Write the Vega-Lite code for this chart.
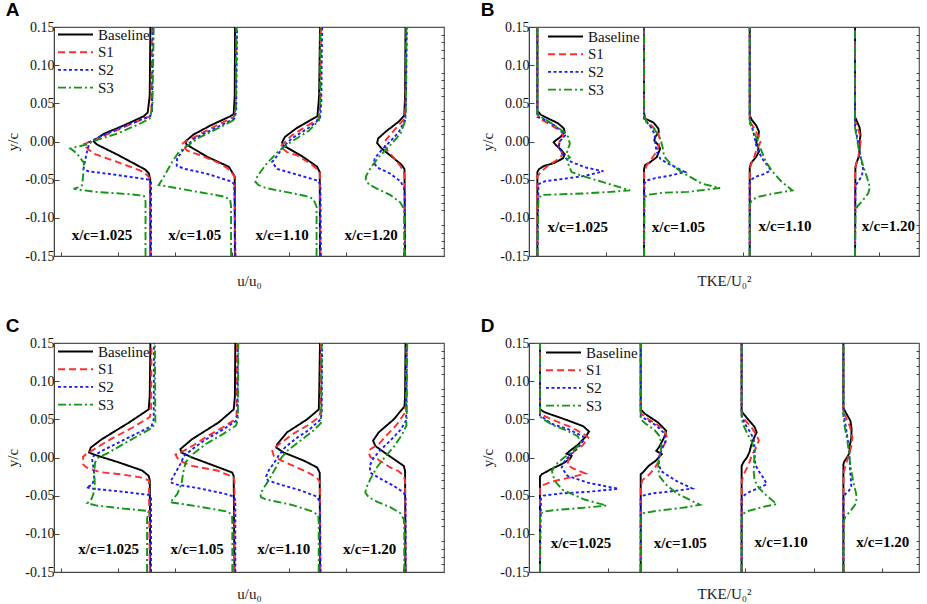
{
"$schema":"https://vega.github.io/schema/vega-lite/v6.json",
"padding":{"left":5,"top":0,"right":3,"bottom":2},
"config":{"font":"Liberation Serif","view":{"stroke":"#555","strokeWidth":1.2},
"axis":{"grid":false,"domainColor":"#444","tickColor":"#444","labelFont":"Liberation Serif","titleFont":"Liberation Serif","labelColor":"#111","titleColor":"#222","titleFontWeight":"normal","labelFontSize":14,"titleFontSize":15},
"legend":{"padding":0,"title":null,"symbolType":"stroke","symbolSize":1225,"symbolStrokeWidth":2,"clipHeight":15,"labelFont":"Liberation Serif","labelFontSize":15,"labelColor":"#111","rowPadding":1.7,"labelOffset":4},
"line":{"strokeWidth":1.9}},
"datasets":{
"A":[
{"g":1,"s":"Baseline","x":1.047,"y":0.15},{"g":1,"s":"Baseline","x":1.039,"y":0.06},{"g":1,"s":"Baseline","x":1.016,"y":0.038},{"g":1,"s":"Baseline","x":0.969,"y":0.033},{"g":1,"s":"Baseline","x":0.735,"y":0.021},{"g":1,"s":"Baseline","x":0.501,"y":0.01},{"g":1,"s":"Baseline","x":0.40,"y":0.002},{"g":1,"s":"Baseline","x":0.384,"y":0.0},{"g":1,"s":"Baseline","x":0.423,"y":-0.004},{"g":1,"s":"Baseline","x":0.657,"y":-0.017},{"g":1,"s":"Baseline","x":0.891,"y":-0.031},{"g":1,"s":"Baseline","x":0.99,"y":-0.037},{"g":1,"s":"Baseline","x":1.03,"y":-0.042},{"g":1,"s":"Baseline","x":1.045,"y":-0.05},{"g":1,"s":"Baseline","x":1.047,"y":-0.15},
{"g":1,"s":"S1","x":1.066,"y":0.15},{"g":1,"s":"S1","x":1.058,"y":0.04},{"g":1,"s":"S1","x":1.04,"y":0.033},{"g":1,"s":"S1","x":0.95,"y":0.029},{"g":1,"s":"S1","x":0.70,"y":0.017},{"g":1,"s":"S1","x":0.45,"y":0.005},{"g":1,"s":"S1","x":0.30,"y":-0.002},{"g":1,"s":"S1","x":0.259,"y":-0.004},{"g":1,"s":"S1","x":0.384,"y":-0.016},{"g":1,"s":"S1","x":0.54,"y":-0.022},{"g":1,"s":"S1","x":0.735,"y":-0.030},{"g":1,"s":"S1","x":0.93,"y":-0.038},{"g":1,"s":"S1","x":1.008,"y":-0.044},{"g":1,"s":"S1","x":1.039,"y":-0.048},{"g":1,"s":"S1","x":1.05,"y":-0.15},
{"g":1,"s":"S2","x":1.078,"y":0.15},{"g":1,"s":"S2","x":1.066,"y":0.040},{"g":1,"s":"S2","x":1.045,"y":0.033},{"g":1,"s":"S2","x":0.90,"y":0.027},{"g":1,"s":"S2","x":0.65,"y":0.016},{"g":1,"s":"S2","x":0.45,"y":0.006},{"g":1,"s":"S2","x":0.33,"y":-0.001},{"g":1,"s":"S2","x":0.32,"y":-0.008},{"g":1,"s":"S2","x":0.30,"y":-0.016},{"g":1,"s":"S2","x":0.275,"y":-0.030},{"g":1,"s":"S2","x":0.265,"y":-0.036},{"g":1,"s":"S2","x":0.32,"y":-0.039},{"g":1,"s":"S2","x":0.60,"y":-0.043},{"g":1,"s":"S2","x":0.85,"y":-0.047},{"g":1,"s":"S2","x":1.03,"y":-0.050},{"g":1,"s":"S2","x":1.055,"y":-0.054},{"g":1,"s":"S2","x":1.055,"y":-0.15},
{"g":1,"s":"S3","x":1.086,"y":0.15},{"g":1,"s":"S3","x":1.07,"y":0.045},{"g":1,"s":"S3","x":1.04,"y":0.030},{"g":1,"s":"S3","x":0.90,"y":0.022},{"g":1,"s":"S3","x":0.65,"y":0.010},{"g":1,"s":"S3","x":0.42,"y":0.002},{"g":1,"s":"S3","x":0.30,"y":-0.004},{"g":1,"s":"S3","x":0.111,"y":-0.009},{"g":1,"s":"S3","x":0.19,"y":-0.016},{"g":1,"s":"S3","x":0.27,"y":-0.028},{"g":1,"s":"S3","x":0.26,"y":-0.045},{"g":1,"s":"S3","x":0.25,"y":-0.057},{"g":1,"s":"S3","x":0.20,"y":-0.060},{"g":1,"s":"S3","x":0.15,"y":-0.062},{"g":1,"s":"S3","x":0.40,"y":-0.066},{"g":1,"s":"S3","x":0.80,"y":-0.069},{"g":1,"s":"S3","x":0.97,"y":-0.071},{"g":1,"s":"S3","x":0.99,"y":-0.078},{"g":1,"s":"S3","x":0.99,"y":-0.15},
{"g":2,"s":"Baseline","x":2.037,"y":0.15},{"g":2,"s":"Baseline","x":2.033,"y":0.06},{"g":2,"s":"Baseline","x":2.021,"y":0.036},{"g":2,"s":"Baseline","x":1.98,"y":0.033},{"g":2,"s":"Baseline","x":1.75,"y":0.021},{"g":2,"s":"Baseline","x":1.55,"y":0.009},{"g":2,"s":"Baseline","x":1.456,"y":0.0},{"g":2,"s":"Baseline","x":1.47,"y":-0.004},{"g":2,"s":"Baseline","x":1.71,"y":-0.020},{"g":2,"s":"Baseline","x":1.963,"y":-0.033},{"g":2,"s":"Baseline","x":2.002,"y":-0.040},{"g":2,"s":"Baseline","x":2.033,"y":-0.046},{"g":2,"s":"Baseline","x":2.035,"y":-0.15},
{"g":2,"s":"S1","x":2.053,"y":0.15},{"g":2,"s":"S1","x":2.045,"y":0.040},{"g":2,"s":"S1","x":2.02,"y":0.032},{"g":2,"s":"S1","x":1.80,"y":0.020},{"g":2,"s":"S1","x":1.60,"y":0.008},{"g":2,"s":"S1","x":1.43,"y":-0.002},{"g":2,"s":"S1","x":1.417,"y":-0.004},{"g":2,"s":"S1","x":1.476,"y":-0.012},{"g":2,"s":"S1","x":1.632,"y":-0.018},{"g":2,"s":"S1","x":1.866,"y":-0.029},{"g":2,"s":"S1","x":1.982,"y":-0.038},{"g":2,"s":"S1","x":2.03,"y":-0.046},{"g":2,"s":"S1","x":2.04,"y":-0.15},
{"g":2,"s":"S2","x":2.06,"y":0.15},{"g":2,"s":"S2","x":2.05,"y":0.040},{"g":2,"s":"S2","x":2.03,"y":0.030},{"g":2,"s":"S2","x":1.85,"y":0.020},{"g":2,"s":"S2","x":1.65,"y":0.009},{"g":2,"s":"S2","x":1.55,"y":0.003},{"g":2,"s":"S2","x":1.45,"y":-0.008},{"g":2,"s":"S2","x":1.36,"y":-0.022},{"g":2,"s":"S2","x":1.355,"y":-0.032},{"g":2,"s":"S2","x":1.456,"y":-0.036},{"g":2,"s":"S2","x":1.70,"y":-0.042},{"g":2,"s":"S2","x":1.982,"y":-0.052},{"g":2,"s":"S2","x":2.03,"y":-0.056},{"g":2,"s":"S2","x":2.04,"y":-0.15},
{"g":2,"s":"S3","x":2.055,"y":0.15},{"g":2,"s":"S3","x":2.045,"y":0.045},{"g":2,"s":"S3","x":2.02,"y":0.028},{"g":2,"s":"S3","x":1.85,"y":0.018},{"g":2,"s":"S3","x":1.60,"y":0.004},{"g":2,"s":"S3","x":1.50,"y":-0.004},{"g":2,"s":"S3","x":1.378,"y":-0.014},{"g":2,"s":"S3","x":1.30,"y":-0.027},{"g":2,"s":"S3","x":1.20,"y":-0.047},{"g":2,"s":"S3","x":1.144,"y":-0.057},{"g":2,"s":"S3","x":1.20,"y":-0.058},{"g":2,"s":"S3","x":1.55,"y":-0.065},{"g":2,"s":"S3","x":1.90,"y":-0.072},{"g":2,"s":"S3","x":1.98,"y":-0.076},{"g":2,"s":"S3","x":1.99,"y":-0.085},{"g":2,"s":"S3","x":1.99,"y":-0.15},
{"g":3,"s":"Baseline","x":3.03,"y":0.15},{"g":3,"s":"Baseline","x":3.02,"y":0.06},{"g":3,"s":"Baseline","x":3.00,"y":0.033},{"g":3,"s":"Baseline","x":2.95,"y":0.030},{"g":3,"s":"Baseline","x":2.75,"y":0.017},{"g":3,"s":"Baseline","x":2.62,"y":0.006},{"g":3,"s":"Baseline","x":2.587,"y":-0.001},{"g":3,"s":"Baseline","x":2.60,"y":-0.005},{"g":3,"s":"Baseline","x":2.83,"y":-0.020},{"g":3,"s":"Baseline","x":2.996,"y":-0.033},{"g":3,"s":"Baseline","x":3.027,"y":-0.040},{"g":3,"s":"Baseline","x":3.03,"y":-0.15},
{"g":3,"s":"S1","x":3.04,"y":0.15},{"g":3,"s":"S1","x":3.035,"y":0.05},{"g":3,"s":"S1","x":3.016,"y":0.030},{"g":3,"s":"S1","x":2.90,"y":0.022},{"g":3,"s":"S1","x":2.70,"y":0.008},{"g":3,"s":"S1","x":2.567,"y":-0.007},{"g":3,"s":"S1","x":2.645,"y":-0.014},{"g":3,"s":"S1","x":2.76,"y":-0.018},{"g":3,"s":"S1","x":2.918,"y":-0.029},{"g":3,"s":"S1","x":2.996,"y":-0.036},{"g":3,"s":"S1","x":3.03,"y":-0.042},{"g":3,"s":"S1","x":3.035,"y":-0.15},
{"g":3,"s":"S2","x":3.055,"y":0.15},{"g":3,"s":"S2","x":3.045,"y":0.05},{"g":3,"s":"S2","x":3.03,"y":0.030},{"g":3,"s":"S2","x":2.90,"y":0.018},{"g":3,"s":"S2","x":2.70,"y":0.004},{"g":3,"s":"S2","x":2.60,"y":-0.007},{"g":3,"s":"S2","x":2.52,"y":-0.020},{"g":3,"s":"S2","x":2.47,"y":-0.027},{"g":3,"s":"S2","x":2.53,"y":-0.036},{"g":3,"s":"S2","x":2.75,"y":-0.043},{"g":3,"s":"S2","x":2.996,"y":-0.051},{"g":3,"s":"S2","x":3.035,"y":-0.056},{"g":3,"s":"S2","x":3.04,"y":-0.15},
{"g":3,"s":"S3","x":3.035,"y":0.15},{"g":3,"s":"S3","x":3.03,"y":0.05},{"g":3,"s":"S3","x":3.02,"y":0.028},{"g":3,"s":"S3","x":2.90,"y":0.014},{"g":3,"s":"S3","x":2.70,"y":0.0},{"g":3,"s":"S3","x":2.55,"y":-0.012},{"g":3,"s":"S3","x":2.40,"y":-0.030},{"g":3,"s":"S3","x":2.30,"y":-0.045},{"g":3,"s":"S3","x":2.275,"y":-0.053},{"g":3,"s":"S3","x":2.31,"y":-0.057},{"g":3,"s":"S3","x":2.40,"y":-0.061},{"g":3,"s":"S3","x":2.85,"y":-0.071},{"g":3,"s":"S3","x":2.95,"y":-0.075},{"g":3,"s":"S3","x":2.99,"y":-0.085},{"g":3,"s":"S3","x":2.99,"y":-0.15},
{"g":4,"s":"Baseline","x":4.03,"y":0.15},{"g":4,"s":"Baseline","x":4.025,"y":0.06},{"g":4,"s":"Baseline","x":4.015,"y":0.034},{"g":4,"s":"Baseline","x":3.95,"y":0.026},{"g":4,"s":"Baseline","x":3.80,"y":0.013},{"g":4,"s":"Baseline","x":3.71,"y":0.004},{"g":4,"s":"Baseline","x":3.698,"y":-0.002},{"g":4,"s":"Baseline","x":3.75,"y":-0.009},{"g":4,"s":"Baseline","x":3.87,"y":-0.020},{"g":4,"s":"Baseline","x":3.98,"y":-0.030},{"g":4,"s":"Baseline","x":4.018,"y":-0.036},{"g":4,"s":"Baseline","x":4.025,"y":-0.15},
{"g":4,"s":"S1","x":4.04,"y":0.15},{"g":4,"s":"S1","x":4.03,"y":0.05},{"g":4,"s":"S1","x":4.02,"y":0.030},{"g":4,"s":"S1","x":3.93,"y":0.019},{"g":4,"s":"S1","x":3.87,"y":0.011},{"g":4,"s":"S1","x":3.80,"y":0.002},{"g":4,"s":"S1","x":3.79,"y":-0.005},{"g":4,"s":"S1","x":3.82,"y":-0.012},{"g":4,"s":"S1","x":3.90,"y":-0.022},{"g":4,"s":"S1","x":3.97,"y":-0.032},{"g":4,"s":"S1","x":4.01,"y":-0.040},{"g":4,"s":"S1","x":4.02,"y":-0.048},{"g":4,"s":"S1","x":4.025,"y":-0.15},
{"g":4,"s":"S2","x":4.045,"y":0.15},{"g":4,"s":"S2","x":4.035,"y":0.05},{"g":4,"s":"S2","x":4.025,"y":0.028},{"g":4,"s":"S2","x":3.95,"y":0.012},{"g":4,"s":"S2","x":3.85,"y":0.0},{"g":4,"s":"S2","x":3.76,"y":-0.010},{"g":4,"s":"S2","x":3.67,"y":-0.022},{"g":4,"s":"S2","x":3.66,"y":-0.028},{"g":4,"s":"S2","x":3.70,"y":-0.034},{"g":4,"s":"S2","x":3.85,"y":-0.042},{"g":4,"s":"S2","x":3.97,"y":-0.052},{"g":4,"s":"S2","x":4.01,"y":-0.060},{"g":4,"s":"S2","x":4.02,"y":-0.068},{"g":4,"s":"S2","x":4.02,"y":-0.15},
{"g":4,"s":"S3","x":4.04,"y":0.15},{"g":4,"s":"S3","x":4.035,"y":0.05},{"g":4,"s":"S3","x":4.03,"y":0.028},{"g":4,"s":"S3","x":3.97,"y":0.010},{"g":4,"s":"S3","x":3.85,"y":-0.005},{"g":4,"s":"S3","x":3.72,"y":-0.020},{"g":4,"s":"S3","x":3.62,"y":-0.035},{"g":4,"s":"S3","x":3.57,"y":-0.045},{"g":4,"s":"S3","x":3.565,"y":-0.050},{"g":4,"s":"S3","x":3.60,"y":-0.056},{"g":4,"s":"S3","x":3.70,"y":-0.062},{"g":4,"s":"S3","x":3.85,"y":-0.070},{"g":4,"s":"S3","x":3.97,"y":-0.080},{"g":4,"s":"S3","x":4.01,"y":-0.088},{"g":4,"s":"S3","x":4.015,"y":-0.095},{"g":4,"s":"S3","x":4.015,"y":-0.15}
],
"C":[
{"g":1,"s":"Baseline","x":1.047,"y":0.15},{"g":1,"s":"Baseline","x":1.039,"y":0.08},{"g":1,"s":"Baseline","x":1.027,"y":0.063},{"g":1,"s":"Baseline","x":0.80,"y":0.046},{"g":1,"s":"Baseline","x":0.48,"y":0.024},{"g":1,"s":"Baseline","x":0.35,"y":0.013},{"g":1,"s":"Baseline","x":0.33,"y":0.0065},{"g":1,"s":"Baseline","x":0.41,"y":0.003},{"g":1,"s":"Baseline","x":0.68,"y":-0.0065},{"g":1,"s":"Baseline","x":0.95,"y":-0.017},{"g":1,"s":"Baseline","x":1.027,"y":-0.024},{"g":1,"s":"Baseline","x":1.04,"y":-0.03},{"g":1,"s":"Baseline","x":1.045,"y":-0.15},
{"g":1,"s":"S1","x":1.06,"y":0.15},{"g":1,"s":"S1","x":1.055,"y":0.06},{"g":1,"s":"S1","x":1.04,"y":0.053},{"g":1,"s":"S1","x":0.85,"y":0.040},{"g":1,"s":"S1","x":0.60,"y":0.025},{"g":1,"s":"S1","x":0.42,"y":0.013},{"g":1,"s":"S1","x":0.29,"y":0.004},{"g":1,"s":"S1","x":0.26,"y":0.001},{"g":1,"s":"S1","x":0.26,"y":-0.009},{"g":1,"s":"S1","x":0.30,"y":-0.013},{"g":1,"s":"S1","x":0.45,"y":-0.019},{"g":1,"s":"S1","x":0.70,"y":-0.022},{"g":1,"s":"S1","x":0.93,"y":-0.026},{"g":1,"s":"S1","x":1.03,"y":-0.030},{"g":1,"s":"S1","x":1.04,"y":-0.15},
{"g":1,"s":"S2","x":1.09,"y":0.15},{"g":1,"s":"S2","x":1.086,"y":0.050},{"g":1,"s":"S2","x":1.06,"y":0.041},{"g":1,"s":"S2","x":0.754,"y":0.024},{"g":1,"s":"S2","x":0.481,"y":0.0087},{"g":1,"s":"S2","x":0.384,"y":0.002},{"g":1,"s":"S2","x":0.365,"y":-0.002},{"g":1,"s":"S2","x":0.384,"y":-0.015},{"g":1,"s":"S2","x":0.39,"y":-0.028},{"g":1,"s":"S2","x":0.365,"y":-0.036},{"g":1,"s":"S2","x":0.298,"y":-0.039},{"g":1,"s":"S2","x":0.384,"y":-0.041},{"g":1,"s":"S2","x":0.735,"y":-0.045},{"g":1,"s":"S2","x":1.027,"y":-0.049},{"g":1,"s":"S2","x":1.055,"y":-0.052},{"g":1,"s":"S2","x":1.055,"y":-0.15},
{"g":1,"s":"S3","x":1.10,"y":0.15},{"g":1,"s":"S3","x":1.105,"y":0.046},{"g":1,"s":"S3","x":1.07,"y":0.039},{"g":1,"s":"S3","x":0.832,"y":0.024},{"g":1,"s":"S3","x":0.56,"y":0.0065},{"g":1,"s":"S3","x":0.44,"y":0.0},{"g":1,"s":"S3","x":0.40,"y":-0.0065},{"g":1,"s":"S3","x":0.39,"y":-0.020},{"g":1,"s":"S3","x":0.40,"y":-0.041},{"g":1,"s":"S3","x":0.36,"y":-0.054},{"g":1,"s":"S3","x":0.31,"y":-0.060},{"g":1,"s":"S3","x":0.42,"y":-0.063},{"g":1,"s":"S3","x":0.735,"y":-0.067},{"g":1,"s":"S3","x":1.027,"y":-0.070},{"g":1,"s":"S3","x":1.02,"y":-0.074},{"g":1,"s":"S3","x":1.008,"y":-0.08},{"g":1,"s":"S3","x":1.008,"y":-0.15},
{"g":2,"s":"Baseline","x":2.04,"y":0.15},{"g":2,"s":"Baseline","x":2.035,"y":0.08},{"g":2,"s":"Baseline","x":2.021,"y":0.063},{"g":2,"s":"Baseline","x":1.846,"y":0.046},{"g":2,"s":"Baseline","x":1.534,"y":0.024},{"g":2,"s":"Baseline","x":1.398,"y":0.011},{"g":2,"s":"Baseline","x":1.41,"y":0.0065},{"g":2,"s":"Baseline","x":1.534,"y":0.0},{"g":2,"s":"Baseline","x":1.846,"y":-0.013},{"g":2,"s":"Baseline","x":2.002,"y":-0.0196},{"g":2,"s":"Baseline","x":2.021,"y":-0.024},{"g":2,"s":"Baseline","x":2.03,"y":-0.15},
{"g":2,"s":"S1","x":2.06,"y":0.15},{"g":2,"s":"S1","x":2.055,"y":0.055},{"g":2,"s":"S1","x":2.04,"y":0.050},{"g":2,"s":"S1","x":1.90,"y":0.040},{"g":2,"s":"S1","x":1.70,"y":0.027},{"g":2,"s":"S1","x":1.55,"y":0.016},{"g":2,"s":"S1","x":1.44,"y":0.009},{"g":2,"s":"S1","x":1.34,"y":0.004},{"g":2,"s":"S1","x":1.378,"y":-0.004},{"g":2,"s":"S1","x":1.534,"y":-0.011},{"g":2,"s":"S1","x":1.827,"y":-0.017},{"g":2,"s":"S1","x":2.021,"y":-0.026},{"g":2,"s":"S1","x":2.03,"y":-0.032},{"g":2,"s":"S1","x":2.03,"y":-0.15},
{"g":2,"s":"S2","x":2.07,"y":0.15},{"g":2,"s":"S2","x":2.065,"y":0.055},{"g":2,"s":"S2","x":2.05,"y":0.048},{"g":2,"s":"S2","x":1.90,"y":0.037},{"g":2,"s":"S2","x":1.70,"y":0.024},{"g":2,"s":"S2","x":1.55,"y":0.012},{"g":2,"s":"S2","x":1.44,"y":0.002},{"g":2,"s":"S2","x":1.40,"y":-0.008},{"g":2,"s":"S2","x":1.34,"y":-0.020},{"g":2,"s":"S2","x":1.30,"y":-0.028},{"g":2,"s":"S2","x":1.28,"y":-0.032},{"g":2,"s":"S2","x":1.33,"y":-0.035},{"g":2,"s":"S2","x":1.60,"y":-0.040},{"g":2,"s":"S2","x":1.90,"y":-0.047},{"g":2,"s":"S2","x":2.02,"y":-0.051},{"g":2,"s":"S2","x":2.04,"y":-0.056},{"g":2,"s":"S2","x":2.04,"y":-0.15},
{"g":2,"s":"S3","x":2.075,"y":0.15},{"g":2,"s":"S3","x":2.07,"y":0.05},{"g":2,"s":"S3","x":2.05,"y":0.042},{"g":2,"s":"S3","x":1.90,"y":0.031},{"g":2,"s":"S3","x":1.70,"y":0.018},{"g":2,"s":"S3","x":1.55,"y":0.005},{"g":2,"s":"S3","x":1.46,"y":-0.006},{"g":2,"s":"S3","x":1.43,"y":-0.020},{"g":2,"s":"S3","x":1.41,"y":-0.035},{"g":2,"s":"S3","x":1.36,"y":-0.048},{"g":2,"s":"S3","x":1.30,"y":-0.056},{"g":2,"s":"S3","x":1.275,"y":-0.057},{"g":2,"s":"S3","x":1.30,"y":-0.059},{"g":2,"s":"S3","x":1.60,"y":-0.064},{"g":2,"s":"S3","x":1.95,"y":-0.071},{"g":2,"s":"S3","x":2.00,"y":-0.075},{"g":2,"s":"S3","x":2.005,"y":-0.085},{"g":2,"s":"S3","x":2.005,"y":-0.15},
{"g":3,"s":"Baseline","x":3.03,"y":0.15},{"g":3,"s":"Baseline","x":3.02,"y":0.08},{"g":3,"s":"Baseline","x":3.016,"y":0.063},{"g":3,"s":"Baseline","x":2.88,"y":0.050},{"g":3,"s":"Baseline","x":2.645,"y":0.033},{"g":3,"s":"Baseline","x":2.528,"y":0.017},{"g":3,"s":"Baseline","x":2.52,"y":0.013},{"g":3,"s":"Baseline","x":2.606,"y":0.0065},{"g":3,"s":"Baseline","x":2.84,"y":-0.004},{"g":3,"s":"Baseline","x":2.996,"y":-0.013},{"g":3,"s":"Baseline","x":3.027,"y":-0.020},{"g":3,"s":"Baseline","x":3.03,"y":-0.15},
{"g":3,"s":"S1","x":3.04,"y":0.15},{"g":3,"s":"S1","x":3.035,"y":0.06},{"g":3,"s":"S1","x":3.02,"y":0.053},{"g":3,"s":"S1","x":2.90,"y":0.043},{"g":3,"s":"S1","x":2.70,"y":0.030},{"g":3,"s":"S1","x":2.56,"y":0.018},{"g":3,"s":"S1","x":2.50,"y":0.013},{"g":3,"s":"S1","x":2.47,"y":0.010},{"g":3,"s":"S1","x":2.49,"y":0.002},{"g":3,"s":"S1","x":2.56,"y":-0.003},{"g":3,"s":"S1","x":2.70,"y":-0.010},{"g":3,"s":"S1","x":2.88,"y":-0.019},{"g":3,"s":"S1","x":2.99,"y":-0.026},{"g":3,"s":"S1","x":3.03,"y":-0.032},{"g":3,"s":"S1","x":3.035,"y":-0.15},
{"g":3,"s":"S2","x":3.055,"y":0.15},{"g":3,"s":"S2","x":3.05,"y":0.06},{"g":3,"s":"S2","x":3.04,"y":0.050},{"g":3,"s":"S2","x":2.90,"y":0.036},{"g":3,"s":"S2","x":2.75,"y":0.025},{"g":3,"s":"S2","x":2.62,"y":0.013},{"g":3,"s":"S2","x":2.55,"y":0.003},{"g":3,"s":"S2","x":2.50,"y":-0.006},{"g":3,"s":"S2","x":2.43,"y":-0.017},{"g":3,"s":"S2","x":2.40,"y":-0.025},{"g":3,"s":"S2","x":2.42,"y":-0.030},{"g":3,"s":"S2","x":2.55,"y":-0.035},{"g":3,"s":"S2","x":2.80,"y":-0.043},{"g":3,"s":"S2","x":2.99,"y":-0.051},{"g":3,"s":"S2","x":3.03,"y":-0.058},{"g":3,"s":"S2","x":3.035,"y":-0.15},
{"g":3,"s":"S3","x":3.05,"y":0.15},{"g":3,"s":"S3","x":3.045,"y":0.06},{"g":3,"s":"S3","x":3.04,"y":0.045},{"g":3,"s":"S3","x":2.95,"y":0.035},{"g":3,"s":"S3","x":2.80,"y":0.022},{"g":3,"s":"S3","x":2.66,"y":0.010},{"g":3,"s":"S3","x":2.58,"y":0.0},{"g":3,"s":"S3","x":2.52,"y":-0.012},{"g":3,"s":"S3","x":2.43,"y":-0.030},{"g":3,"s":"S3","x":2.36,"y":-0.042},{"g":3,"s":"S3","x":2.335,"y":-0.048},{"g":3,"s":"S3","x":2.34,"y":-0.052},{"g":3,"s":"S3","x":2.40,"y":-0.055},{"g":3,"s":"S3","x":2.70,"y":-0.062},{"g":3,"s":"S3","x":2.95,"y":-0.071},{"g":3,"s":"S3","x":3.01,"y":-0.076},{"g":3,"s":"S3","x":3.015,"y":-0.085},{"g":3,"s":"S3","x":3.015,"y":-0.15},
{"g":4,"s":"Baseline","x":4.03,"y":0.15},{"g":4,"s":"Baseline","x":4.025,"y":0.08},{"g":4,"s":"Baseline","x":4.018,"y":0.067},{"g":4,"s":"Baseline","x":3.893,"y":0.050},{"g":4,"s":"Baseline","x":3.717,"y":0.033},{"g":4,"s":"Baseline","x":3.651,"y":0.022},{"g":4,"s":"Baseline","x":3.678,"y":0.015},{"g":4,"s":"Baseline","x":3.815,"y":0.004},{"g":4,"s":"Baseline","x":3.951,"y":-0.0065},{"g":4,"s":"Baseline","x":4.01,"y":-0.011},{"g":4,"s":"Baseline","x":4.025,"y":-0.018},{"g":4,"s":"Baseline","x":4.029,"y":-0.15},
{"g":4,"s":"S1","x":4.04,"y":0.15},{"g":4,"s":"S1","x":4.035,"y":0.07},{"g":4,"s":"S1","x":4.02,"y":0.058},{"g":4,"s":"S1","x":3.92,"y":0.042},{"g":4,"s":"S1","x":3.80,"y":0.028},{"g":4,"s":"S1","x":3.72,"y":0.018},{"g":4,"s":"S1","x":3.62,"y":0.011},{"g":4,"s":"S1","x":3.60,"y":0.007},{"g":4,"s":"S1","x":3.62,"y":0.0},{"g":4,"s":"S1","x":3.70,"y":-0.002},{"g":4,"s":"S1","x":3.85,"y":-0.013},{"g":4,"s":"S1","x":3.95,"y":-0.018},{"g":4,"s":"S1","x":4.01,"y":-0.024},{"g":4,"s":"S1","x":4.025,"y":-0.030},{"g":4,"s":"S1","x":4.03,"y":-0.15},
{"g":4,"s":"S2","x":4.045,"y":0.15},{"g":4,"s":"S2","x":4.04,"y":0.06},{"g":4,"s":"S2","x":4.035,"y":0.048},{"g":4,"s":"S2","x":3.97,"y":0.036},{"g":4,"s":"S2","x":3.85,"y":0.022},{"g":4,"s":"S2","x":3.72,"y":0.008},{"g":4,"s":"S2","x":3.65,"y":-0.002},{"g":4,"s":"S2","x":3.61,"y":-0.011},{"g":4,"s":"S2","x":3.62,"y":-0.020},{"g":4,"s":"S2","x":3.74,"y":-0.028},{"g":4,"s":"S2","x":3.89,"y":-0.037},{"g":4,"s":"S2","x":4.01,"y":-0.046},{"g":4,"s":"S2","x":4.03,"y":-0.052},{"g":4,"s":"S2","x":4.03,"y":-0.15},
{"g":4,"s":"S3","x":4.05,"y":0.15},{"g":4,"s":"S3","x":4.045,"y":0.06},{"g":4,"s":"S3","x":4.04,"y":0.042},{"g":4,"s":"S3","x":3.99,"y":0.030},{"g":4,"s":"S3","x":3.90,"y":0.015},{"g":4,"s":"S3","x":3.80,"y":0.002},{"g":4,"s":"S3","x":3.70,"y":-0.012},{"g":4,"s":"S3","x":3.62,"y":-0.028},{"g":4,"s":"S3","x":3.57,"y":-0.040},{"g":4,"s":"S3","x":3.56,"y":-0.046},{"g":4,"s":"S3","x":3.60,"y":-0.052},{"g":4,"s":"S3","x":3.70,"y":-0.058},{"g":4,"s":"S3","x":3.85,"y":-0.065},{"g":4,"s":"S3","x":3.97,"y":-0.073},{"g":4,"s":"S3","x":4.01,"y":-0.081},{"g":4,"s":"S3","x":4.015,"y":-0.09},{"g":4,"s":"S3","x":4.015,"y":-0.15}
],
"B":[
{"g":1,"s":"Baseline","x":0,"y":0.15},{"g":1,"s":"Baseline","x":0,"y":0.040},{"g":1,"s":"Baseline","x":0.002,"y":0.035},{"g":1,"s":"Baseline","x":0.0064,"y":0.030},{"g":1,"s":"Baseline","x":0.012,"y":0.024},{"g":1,"s":"Baseline","x":0.0155,"y":0.017},{"g":1,"s":"Baseline","x":0.016,"y":0.012},{"g":1,"s":"Baseline","x":0.0135,"y":0.006},{"g":1,"s":"Baseline","x":0.0105,"y":0.001},{"g":1,"s":"Baseline","x":0.0095,"y":-0.001},{"g":1,"s":"Baseline","x":0.011,"y":-0.005},{"g":1,"s":"Baseline","x":0.014,"y":-0.011},{"g":1,"s":"Baseline","x":0.016,"y":-0.017},{"g":1,"s":"Baseline","x":0.015,"y":-0.022},{"g":1,"s":"Baseline","x":0.010,"y":-0.028},{"g":1,"s":"Baseline","x":0.004,"y":-0.032},{"g":1,"s":"Baseline","x":0.001,"y":-0.036},{"g":1,"s":"Baseline","x":0,"y":-0.04},{"g":1,"s":"Baseline","x":0,"y":-0.15},
{"g":1,"s":"S1","x":0,"y":0.15},{"g":1,"s":"S1","x":0,"y":0.035},{"g":1,"s":"S1","x":0.003,"y":0.028},{"g":1,"s":"S1","x":0.009,"y":0.020},{"g":1,"s":"S1","x":0.0145,"y":0.012},{"g":1,"s":"S1","x":0.015,"y":0.006},{"g":1,"s":"S1","x":0.013,"y":0.0},{"g":1,"s":"S1","x":0.0125,"y":-0.006},{"g":1,"s":"S1","x":0.014,"y":-0.012},{"g":1,"s":"S1","x":0.0145,"y":-0.018},{"g":1,"s":"S1","x":0.011,"y":-0.025},{"g":1,"s":"S1","x":0.006,"y":-0.032},{"g":1,"s":"S1","x":0.002,"y":-0.040},{"g":1,"s":"S1","x":0,"y":-0.046},{"g":1,"s":"S1","x":0,"y":-0.15},
{"g":1,"s":"S2","x":0,"y":0.15},{"g":1,"s":"S2","x":0,"y":0.032},{"g":1,"s":"S2","x":0.003,"y":0.030},{"g":1,"s":"S2","x":0.010,"y":0.021},{"g":1,"s":"S2","x":0.015,"y":0.012},{"g":1,"s":"S2","x":0.0162,"y":0.008},{"g":1,"s":"S2","x":0.013,"y":0.0},{"g":1,"s":"S2","x":0.0125,"y":-0.008},{"g":1,"s":"S2","x":0.016,"y":-0.020},{"g":1,"s":"S2","x":0.018,"y":-0.025},{"g":1,"s":"S2","x":0.028,"y":-0.034},{"g":1,"s":"S2","x":0.0386,"y":-0.039},{"g":1,"s":"S2","x":0.028,"y":-0.045},{"g":1,"s":"S2","x":0.015,"y":-0.049},{"g":1,"s":"S2","x":0.0045,"y":-0.052},{"g":1,"s":"S2","x":0.0006,"y":-0.056},{"g":1,"s":"S2","x":0,"y":-0.15},
{"g":1,"s":"S3","x":0,"y":0.15},{"g":1,"s":"S3","x":0,"y":0.036},{"g":1,"s":"S3","x":0.001,"y":0.034},{"g":1,"s":"S3","x":0.0074,"y":0.025},{"g":1,"s":"S3","x":0.016,"y":0.012},{"g":1,"s":"S3","x":0.018,"y":0.006},{"g":1,"s":"S3","x":0.019,"y":-0.003},{"g":1,"s":"S3","x":0.017,"y":-0.016},{"g":1,"s":"S3","x":0.019,"y":-0.021},{"g":1,"s":"S3","x":0.0175,"y":-0.023},{"g":1,"s":"S3","x":0.018,"y":-0.029},{"g":1,"s":"S3","x":0.020,"y":-0.040},{"g":1,"s":"S3","x":0.026,"y":-0.045},{"g":1,"s":"S3","x":0.038,"y":-0.053},{"g":1,"s":"S3","x":0.0542,"y":-0.064},{"g":1,"s":"S3","x":0.043,"y":-0.066},{"g":1,"s":"S3","x":0.028,"y":-0.068},{"g":1,"s":"S3","x":0.010,"y":-0.0695},{"g":1,"s":"S3","x":0.0025,"y":-0.070},{"g":1,"s":"S3","x":0.0006,"y":-0.075},{"g":1,"s":"S3","x":0,"y":-0.15},
{"g":2,"s":"Baseline","x":0.0624,"y":0.15},{"g":2,"s":"Baseline","x":0.0624,"y":0.038},{"g":2,"s":"Baseline","x":0.063,"y":0.030},{"g":2,"s":"Baseline","x":0.0678,"y":0.025},{"g":2,"s":"Baseline","x":0.0708,"y":0.017},{"g":2,"s":"Baseline","x":0.071,"y":0.012},{"g":2,"s":"Baseline","x":0.0688,"y":0.0057},{"g":2,"s":"Baseline","x":0.0684,"y":0.0013},{"g":2,"s":"Baseline","x":0.0708,"y":-0.005},{"g":2,"s":"Baseline","x":0.0718,"y":-0.0096},{"g":2,"s":"Baseline","x":0.0698,"y":-0.0205},{"g":2,"s":"Baseline","x":0.066,"y":-0.027},{"g":2,"s":"Baseline","x":0.063,"y":-0.031},{"g":2,"s":"Baseline","x":0.0624,"y":-0.036},{"g":2,"s":"Baseline","x":0.0624,"y":-0.15},
{"g":2,"s":"S1","x":0.0624,"y":0.15},{"g":2,"s":"S1","x":0.0624,"y":0.032},{"g":2,"s":"S1","x":0.064,"y":0.027},{"g":2,"s":"S1","x":0.068,"y":0.018},{"g":2,"s":"S1","x":0.0708,"y":0.010},{"g":2,"s":"S1","x":0.0718,"y":0.002},{"g":2,"s":"S1","x":0.071,"y":-0.006},{"g":2,"s":"S1","x":0.0698,"y":-0.013},{"g":2,"s":"S1","x":0.067,"y":-0.022},{"g":2,"s":"S1","x":0.064,"y":-0.031},{"g":2,"s":"S1","x":0.0624,"y":-0.040},{"g":2,"s":"S1","x":0.0624,"y":-0.15},
{"g":2,"s":"S2","x":0.0624,"y":0.15},{"g":2,"s":"S2","x":0.0624,"y":0.030},{"g":2,"s":"S2","x":0.066,"y":0.020},{"g":2,"s":"S2","x":0.068,"y":0.012},{"g":2,"s":"S2","x":0.069,"y":0.004},{"g":2,"s":"S2","x":0.069,"y":-0.005},{"g":2,"s":"S2","x":0.070,"y":-0.014},{"g":2,"s":"S2","x":0.072,"y":-0.023},{"g":2,"s":"S2","x":0.0765,"y":-0.029},{"g":2,"s":"S2","x":0.0864,"y":-0.040},{"g":2,"s":"S2","x":0.077,"y":-0.045},{"g":2,"s":"S2","x":0.069,"y":-0.048},{"g":2,"s":"S2","x":0.064,"y":-0.051},{"g":2,"s":"S2","x":0.0626,"y":-0.055},{"g":2,"s":"S2","x":0.0624,"y":-0.15},
{"g":2,"s":"S3","x":0.0624,"y":0.15},{"g":2,"s":"S3","x":0.0624,"y":0.034},{"g":2,"s":"S3","x":0.064,"y":0.024},{"g":2,"s":"S3","x":0.068,"y":0.017},{"g":2,"s":"S3","x":0.071,"y":0.008},{"g":2,"s":"S3","x":0.0725,"y":-0.001},{"g":2,"s":"S3","x":0.0735,"y":-0.010},{"g":2,"s":"S3","x":0.074,"y":-0.019},{"g":2,"s":"S3","x":0.077,"y":-0.027},{"g":2,"s":"S3","x":0.083,"y":-0.038},{"g":2,"s":"S3","x":0.096,"y":-0.055},{"g":2,"s":"S3","x":0.1068,"y":-0.061},{"g":2,"s":"S3","x":0.088,"y":-0.066},{"g":2,"s":"S3","x":0.074,"y":-0.067},{"g":2,"s":"S3","x":0.064,"y":-0.070},{"g":2,"s":"S3","x":0.0626,"y":-0.075},{"g":2,"s":"S3","x":0.0624,"y":-0.15},
{"g":3,"s":"Baseline","x":0.1242,"y":0.15},{"g":3,"s":"Baseline","x":0.1242,"y":0.034},{"g":3,"s":"Baseline","x":0.1255,"y":0.028},{"g":3,"s":"Baseline","x":0.128,"y":0.021},{"g":3,"s":"Baseline","x":0.1296,"y":0.013},{"g":3,"s":"Baseline","x":0.1292,"y":0.006},{"g":3,"s":"Baseline","x":0.128,"y":-0.001},{"g":3,"s":"Baseline","x":0.1292,"y":-0.008},{"g":3,"s":"Baseline","x":0.1296,"y":-0.013},{"g":3,"s":"Baseline","x":0.128,"y":-0.020},{"g":3,"s":"Baseline","x":0.125,"y":-0.028},{"g":3,"s":"Baseline","x":0.1242,"y":-0.034},{"g":3,"s":"Baseline","x":0.1242,"y":-0.15},
{"g":3,"s":"S1","x":0.1242,"y":0.15},{"g":3,"s":"S1","x":0.1242,"y":0.026},{"g":3,"s":"S1","x":0.127,"y":0.017},{"g":3,"s":"S1","x":0.129,"y":0.008},{"g":3,"s":"S1","x":0.1308,"y":0.001},{"g":3,"s":"S1","x":0.1295,"y":-0.005},{"g":3,"s":"S1","x":0.128,"y":-0.012},{"g":3,"s":"S1","x":0.127,"y":-0.019},{"g":3,"s":"S1","x":0.1255,"y":-0.027},{"g":3,"s":"S1","x":0.1242,"y":-0.036},{"g":3,"s":"S1","x":0.1242,"y":-0.15},
{"g":3,"s":"S2","x":0.1242,"y":0.15},{"g":3,"s":"S2","x":0.1242,"y":0.025},{"g":3,"s":"S2","x":0.126,"y":0.016},{"g":3,"s":"S2","x":0.127,"y":0.006},{"g":3,"s":"S2","x":0.128,"y":-0.005},{"g":3,"s":"S2","x":0.1295,"y":-0.014},{"g":3,"s":"S2","x":0.132,"y":-0.024},{"g":3,"s":"S2","x":0.1355,"y":-0.034},{"g":3,"s":"S2","x":0.1365,"y":-0.038},{"g":3,"s":"S2","x":0.132,"y":-0.043},{"g":3,"s":"S2","x":0.128,"y":-0.046},{"g":3,"s":"S2","x":0.125,"y":-0.050},{"g":3,"s":"S2","x":0.1242,"y":-0.054},{"g":3,"s":"S2","x":0.1242,"y":-0.15},
{"g":3,"s":"S3","x":0.1242,"y":0.15},{"g":3,"s":"S3","x":0.1242,"y":0.028},{"g":3,"s":"S3","x":0.1255,"y":0.017},{"g":3,"s":"S3","x":0.128,"y":0.006},{"g":3,"s":"S3","x":0.1295,"y":-0.002},{"g":3,"s":"S3","x":0.131,"y":-0.012},{"g":3,"s":"S3","x":0.1335,"y":-0.026},{"g":3,"s":"S3","x":0.137,"y":-0.038},{"g":3,"s":"S3","x":0.1425,"y":-0.052},{"g":3,"s":"S3","x":0.1491,"y":-0.064},{"g":3,"s":"S3","x":0.139,"y":-0.068},{"g":3,"s":"S3","x":0.130,"y":-0.072},{"g":3,"s":"S3","x":0.1255,"y":-0.076},{"g":3,"s":"S3","x":0.1243,"y":-0.082},{"g":3,"s":"S3","x":0.1242,"y":-0.15},
{"g":4,"s":"Baseline","x":0.1858,"y":0.15},{"g":4,"s":"Baseline","x":0.1858,"y":0.032},{"g":4,"s":"Baseline","x":0.187,"y":0.026},{"g":4,"s":"Baseline","x":0.1885,"y":0.018},{"g":4,"s":"Baseline","x":0.189,"y":0.008},{"g":4,"s":"Baseline","x":0.1884,"y":0.0},{"g":4,"s":"Baseline","x":0.1885,"y":-0.009},{"g":4,"s":"Baseline","x":0.188,"y":-0.020},{"g":4,"s":"Baseline","x":0.1866,"y":-0.028},{"g":4,"s":"Baseline","x":0.186,"y":-0.034},{"g":4,"s":"Baseline","x":0.1858,"y":-0.15},
{"g":4,"s":"S1","x":0.1858,"y":0.15},{"g":4,"s":"S1","x":0.1858,"y":0.027},{"g":4,"s":"S1","x":0.187,"y":0.020},{"g":4,"s":"S1","x":0.1885,"y":0.010},{"g":4,"s":"S1","x":0.189,"y":0.0},{"g":4,"s":"S1","x":0.1886,"y":-0.010},{"g":4,"s":"S1","x":0.1875,"y":-0.022},{"g":4,"s":"S1","x":0.1862,"y":-0.032},{"g":4,"s":"S1","x":0.1858,"y":-0.040},{"g":4,"s":"S1","x":0.1858,"y":-0.15},
{"g":4,"s":"S2","x":0.1858,"y":0.15},{"g":4,"s":"S2","x":0.1858,"y":0.020},{"g":4,"s":"S2","x":0.1868,"y":0.008},{"g":4,"s":"S2","x":0.1878,"y":-0.005},{"g":4,"s":"S2","x":0.1892,"y":-0.022},{"g":4,"s":"S2","x":0.1905,"y":-0.035},{"g":4,"s":"S2","x":0.1898,"y":-0.045},{"g":4,"s":"S2","x":0.1875,"y":-0.053},{"g":4,"s":"S2","x":0.186,"y":-0.058},{"g":4,"s":"S2","x":0.1858,"y":-0.15},
{"g":4,"s":"S3","x":0.1858,"y":0.15},{"g":4,"s":"S3","x":0.1858,"y":0.018},{"g":4,"s":"S3","x":0.1868,"y":0.004},{"g":4,"s":"S3","x":0.188,"y":-0.010},{"g":4,"s":"S3","x":0.19,"y":-0.028},{"g":4,"s":"S3","x":0.1925,"y":-0.045},{"g":4,"s":"S3","x":0.1945,"y":-0.060},{"g":4,"s":"S3","x":0.1935,"y":-0.068},{"g":4,"s":"S3","x":0.190,"y":-0.078},{"g":4,"s":"S3","x":0.1872,"y":-0.085},{"g":4,"s":"S3","x":0.186,"y":-0.090},{"g":4,"s":"S3","x":0.1858,"y":-0.15}
],
"D":[
{"g":1,"s":"Baseline","x":0,"y":0.15},{"g":1,"s":"Baseline","x":0,"y":0.063},{"g":1,"s":"Baseline","x":0.003,"y":0.059},{"g":1,"s":"Baseline","x":0.0146,"y":0.050},{"g":1,"s":"Baseline","x":0.0253,"y":0.041},{"g":1,"s":"Baseline","x":0.0287,"y":0.034},{"g":1,"s":"Baseline","x":0.027,"y":0.028},{"g":1,"s":"Baseline","x":0.0224,"y":0.017},{"g":1,"s":"Baseline","x":0.0175,"y":0.0087},{"g":1,"s":"Baseline","x":0.0156,"y":0.005},{"g":1,"s":"Baseline","x":0.0185,"y":0.002},{"g":1,"s":"Baseline","x":0.0175,"y":-0.002},{"g":1,"s":"Baseline","x":0.0127,"y":-0.0087},{"g":1,"s":"Baseline","x":0.0068,"y":-0.015},{"g":1,"s":"Baseline","x":0.001,"y":-0.022},{"g":1,"s":"Baseline","x":0,"y":-0.025},{"g":1,"s":"Baseline","x":0,"y":-0.15},
{"g":1,"s":"S1","x":0,"y":0.15},{"g":1,"s":"S1","x":0,"y":0.058},{"g":1,"s":"S1","x":0.002,"y":0.055},{"g":1,"s":"S1","x":0.009,"y":0.048},{"g":1,"s":"S1","x":0.018,"y":0.040},{"g":1,"s":"S1","x":0.026,"y":0.030},{"g":1,"s":"S1","x":0.0283,"y":0.026},{"g":1,"s":"S1","x":0.025,"y":0.016},{"g":1,"s":"S1","x":0.020,"y":0.008},{"g":1,"s":"S1","x":0.017,"y":0.0},{"g":1,"s":"S1","x":0.016,"y":-0.009},{"g":1,"s":"S1","x":0.019,"y":-0.014},{"g":1,"s":"S1","x":0.0267,"y":-0.021},{"g":1,"s":"S1","x":0.018,"y":-0.026},{"g":1,"s":"S1","x":0.008,"y":-0.031},{"g":1,"s":"S1","x":0.002,"y":-0.036},{"g":1,"s":"S1","x":0,"y":-0.040},{"g":1,"s":"S1","x":0,"y":-0.15},
{"g":1,"s":"S2","x":0,"y":0.15},{"g":1,"s":"S2","x":0,"y":0.055},{"g":1,"s":"S2","x":0.002,"y":0.052},{"g":1,"s":"S2","x":0.007,"y":0.044},{"g":1,"s":"S2","x":0.0165,"y":0.037},{"g":1,"s":"S2","x":0.025,"y":0.028},{"g":1,"s":"S2","x":0.026,"y":0.024},{"g":1,"s":"S2","x":0.023,"y":0.015},{"g":1,"s":"S2","x":0.018,"y":0.004},{"g":1,"s":"S2","x":0.0146,"y":-0.0044},{"g":1,"s":"S2","x":0.0127,"y":-0.013},{"g":1,"s":"S2","x":0.016,"y":-0.024},{"g":1,"s":"S2","x":0.028,"y":-0.033},{"g":1,"s":"S2","x":0.0458,"y":-0.041},{"g":1,"s":"S2","x":0.028,"y":-0.045},{"g":1,"s":"S2","x":0.0127,"y":-0.047},{"g":1,"s":"S2","x":0.002,"y":-0.050},{"g":1,"s":"S2","x":0.0006,"y":-0.053},{"g":1,"s":"S2","x":0,"y":-0.15},
{"g":1,"s":"S3","x":0,"y":0.15},{"g":1,"s":"S3","x":0,"y":0.054},{"g":1,"s":"S3","x":0.002,"y":0.050},{"g":1,"s":"S3","x":0.008,"y":0.042},{"g":1,"s":"S3","x":0.016,"y":0.035},{"g":1,"s":"S3","x":0.022,"y":0.028},{"g":1,"s":"S3","x":0.024,"y":0.020},{"g":1,"s":"S3","x":0.021,"y":0.012},{"g":1,"s":"S3","x":0.017,"y":0.005},{"g":1,"s":"S3","x":0.013,"y":-0.002},{"g":1,"s":"S3","x":0.009,"y":-0.010},{"g":1,"s":"S3","x":0.007,"y":-0.018},{"g":1,"s":"S3","x":0.0085,"y":-0.030},{"g":1,"s":"S3","x":0.013,"y":-0.042},{"g":1,"s":"S3","x":0.026,"y":-0.055},{"g":1,"s":"S3","x":0.039,"y":-0.063},{"g":1,"s":"S3","x":0.025,"y":-0.066},{"g":1,"s":"S3","x":0.008,"y":-0.069},{"g":1,"s":"S3","x":0.002,"y":-0.071},{"g":1,"s":"S3","x":0,"y":-0.075},{"g":1,"s":"S3","x":0,"y":-0.15},
{"g":2,"s":"Baseline","x":0.0589,"y":0.15},{"g":2,"s":"Baseline","x":0.0589,"y":0.063},{"g":2,"s":"Baseline","x":0.0615,"y":0.057},{"g":2,"s":"Baseline","x":0.069,"y":0.046},{"g":2,"s":"Baseline","x":0.0738,"y":0.035},{"g":2,"s":"Baseline","x":0.073,"y":0.028},{"g":2,"s":"Baseline","x":0.0695,"y":0.013},{"g":2,"s":"Baseline","x":0.068,"y":0.0087},{"g":2,"s":"Baseline","x":0.0712,"y":0.0044},{"g":2,"s":"Baseline","x":0.0676,"y":-0.0044},{"g":2,"s":"Baseline","x":0.0635,"y":-0.011},{"g":2,"s":"Baseline","x":0.060,"y":-0.020},{"g":2,"s":"Baseline","x":0.0589,"y":-0.022},{"g":2,"s":"Baseline","x":0.0589,"y":-0.15},
{"g":2,"s":"S1","x":0.0589,"y":0.15},{"g":2,"s":"S1","x":0.0589,"y":0.058},{"g":2,"s":"S1","x":0.062,"y":0.052},{"g":2,"s":"S1","x":0.068,"y":0.044},{"g":2,"s":"S1","x":0.0728,"y":0.036},{"g":2,"s":"S1","x":0.0745,"y":0.025},{"g":2,"s":"S1","x":0.072,"y":0.014},{"g":2,"s":"S1","x":0.070,"y":0.004},{"g":2,"s":"S1","x":0.0692,"y":-0.006},{"g":2,"s":"S1","x":0.067,"y":-0.014},{"g":2,"s":"S1","x":0.064,"y":-0.022},{"g":2,"s":"S1","x":0.0598,"y":-0.030},{"g":2,"s":"S1","x":0.0589,"y":-0.038},{"g":2,"s":"S1","x":0.0589,"y":-0.15},
{"g":2,"s":"S2","x":0.0589,"y":0.15},{"g":2,"s":"S2","x":0.0589,"y":0.054},{"g":2,"s":"S2","x":0.062,"y":0.050},{"g":2,"s":"S2","x":0.068,"y":0.042},{"g":2,"s":"S2","x":0.0725,"y":0.032},{"g":2,"s":"S2","x":0.0735,"y":0.022},{"g":2,"s":"S2","x":0.071,"y":0.010},{"g":2,"s":"S2","x":0.0695,"y":0.0},{"g":2,"s":"S2","x":0.0695,"y":-0.010},{"g":2,"s":"S2","x":0.071,"y":-0.018},{"g":2,"s":"S2","x":0.075,"y":-0.024},{"g":2,"s":"S2","x":0.080,"y":-0.031},{"g":2,"s":"S2","x":0.0891,"y":-0.0406},{"g":2,"s":"S2","x":0.078,"y":-0.044},{"g":2,"s":"S2","x":0.066,"y":-0.047},{"g":2,"s":"S2","x":0.060,"y":-0.050},{"g":2,"s":"S2","x":0.0589,"y":-0.054},{"g":2,"s":"S2","x":0.0589,"y":-0.15},
{"g":2,"s":"S3","x":0.0589,"y":0.15},{"g":2,"s":"S3","x":0.0589,"y":0.05},{"g":2,"s":"S3","x":0.062,"y":0.044},{"g":2,"s":"S3","x":0.067,"y":0.036},{"g":2,"s":"S3","x":0.070,"y":0.028},{"g":2,"s":"S3","x":0.071,"y":0.016},{"g":2,"s":"S3","x":0.0705,"y":0.005},{"g":2,"s":"S3","x":0.0695,"y":-0.004},{"g":2,"s":"S3","x":0.069,"y":-0.013},{"g":2,"s":"S3","x":0.070,"y":-0.025},{"g":2,"s":"S3","x":0.0735,"y":-0.035},{"g":2,"s":"S3","x":0.080,"y":-0.047},{"g":2,"s":"S3","x":0.088,"y":-0.056},{"g":2,"s":"S3","x":0.0936,"y":-0.062},{"g":2,"s":"S3","x":0.083,"y":-0.066},{"g":2,"s":"S3","x":0.068,"y":-0.070},{"g":2,"s":"S3","x":0.0605,"y":-0.073},{"g":2,"s":"S3","x":0.0592,"y":-0.077},{"g":2,"s":"S3","x":0.0589,"y":-0.15},
{"g":3,"s":"Baseline","x":0.1179,"y":0.15},{"g":3,"s":"Baseline","x":0.1179,"y":0.061},{"g":3,"s":"Baseline","x":0.119,"y":0.057},{"g":3,"s":"Baseline","x":0.1225,"y":0.048},{"g":3,"s":"Baseline","x":0.1255,"y":0.040},{"g":3,"s":"Baseline","x":0.1267,"y":0.033},{"g":3,"s":"Baseline","x":0.125,"y":0.025},{"g":3,"s":"Baseline","x":0.1235,"y":0.016},{"g":3,"s":"Baseline","x":0.1225,"y":0.007},{"g":3,"s":"Baseline","x":0.121,"y":0.0},{"g":3,"s":"Baseline","x":0.119,"y":-0.006},{"g":3,"s":"Baseline","x":0.1179,"y":-0.011},{"g":3,"s":"Baseline","x":0.1179,"y":-0.15},
{"g":3,"s":"S1","x":0.1179,"y":0.15},{"g":3,"s":"S1","x":0.1179,"y":0.058},{"g":3,"s":"S1","x":0.1195,"y":0.050},{"g":3,"s":"S1","x":0.1235,"y":0.040},{"g":3,"s":"S1","x":0.1265,"y":0.030},{"g":3,"s":"S1","x":0.128,"y":0.022},{"g":3,"s":"S1","x":0.1262,"y":0.012},{"g":3,"s":"S1","x":0.124,"y":0.004},{"g":3,"s":"S1","x":0.1225,"y":-0.006},{"g":3,"s":"S1","x":0.1205,"y":-0.016},{"g":3,"s":"S1","x":0.1188,"y":-0.024},{"g":3,"s":"S1","x":0.1179,"y":-0.032},{"g":3,"s":"S1","x":0.1179,"y":-0.15},
{"g":3,"s":"S2","x":0.1179,"y":0.15},{"g":3,"s":"S2","x":0.1179,"y":0.055},{"g":3,"s":"S2","x":0.1195,"y":0.045},{"g":3,"s":"S2","x":0.123,"y":0.033},{"g":3,"s":"S2","x":0.125,"y":0.024},{"g":3,"s":"S2","x":0.1255,"y":0.012},{"g":3,"s":"S2","x":0.1255,"y":0.0},{"g":3,"s":"S2","x":0.126,"y":-0.010},{"g":3,"s":"S2","x":0.128,"y":-0.018},{"g":3,"s":"S2","x":0.131,"y":-0.028},{"g":3,"s":"S2","x":0.1326,"y":-0.035},{"g":3,"s":"S2","x":0.128,"y":-0.040},{"g":3,"s":"S2","x":0.1225,"y":-0.045},{"g":3,"s":"S2","x":0.119,"y":-0.050},{"g":3,"s":"S2","x":0.1179,"y":-0.054},{"g":3,"s":"S2","x":0.1179,"y":-0.15},
{"g":3,"s":"S3","x":0.1179,"y":0.15},{"g":3,"s":"S3","x":0.1179,"y":0.05},{"g":3,"s":"S3","x":0.119,"y":0.042},{"g":3,"s":"S3","x":0.1215,"y":0.030},{"g":3,"s":"S3","x":0.124,"y":0.020},{"g":3,"s":"S3","x":0.1255,"y":0.008},{"g":3,"s":"S3","x":0.1252,"y":-0.005},{"g":3,"s":"S3","x":0.125,"y":-0.020},{"g":3,"s":"S3","x":0.1255,"y":-0.030},{"g":3,"s":"S3","x":0.128,"y":-0.040},{"g":3,"s":"S3","x":0.1325,"y":-0.050},{"g":3,"s":"S3","x":0.1384,"y":-0.061},{"g":3,"s":"S3","x":0.130,"y":-0.065},{"g":3,"s":"S3","x":0.122,"y":-0.070},{"g":3,"s":"S3","x":0.1185,"y":-0.074},{"g":3,"s":"S3","x":0.1179,"y":-0.080},{"g":3,"s":"S3","x":0.1179,"y":-0.15},
{"g":4,"s":"Baseline","x":0.1774,"y":0.15},{"g":4,"s":"Baseline","x":0.1774,"y":0.065},{"g":4,"s":"Baseline","x":0.179,"y":0.058},{"g":4,"s":"Baseline","x":0.1815,"y":0.048},{"g":4,"s":"Baseline","x":0.1822,"y":0.038},{"g":4,"s":"Baseline","x":0.182,"y":0.025},{"g":4,"s":"Baseline","x":0.181,"y":0.014},{"g":4,"s":"Baseline","x":0.181,"y":0.006},{"g":4,"s":"Baseline","x":0.1795,"y":0.0},{"g":4,"s":"Baseline","x":0.178,"y":-0.005},{"g":4,"s":"Baseline","x":0.1774,"y":-0.009},{"g":4,"s":"Baseline","x":0.1774,"y":-0.15},
{"g":4,"s":"S1","x":0.1774,"y":0.15},{"g":4,"s":"S1","x":0.1774,"y":0.060},{"g":4,"s":"S1","x":0.179,"y":0.052},{"g":4,"s":"S1","x":0.1813,"y":0.040},{"g":4,"s":"S1","x":0.1826,"y":0.026},{"g":4,"s":"S1","x":0.182,"y":0.014},{"g":4,"s":"S1","x":0.1805,"y":0.004},{"g":4,"s":"S1","x":0.1795,"y":-0.005},{"g":4,"s":"S1","x":0.1785,"y":-0.012},{"g":4,"s":"S1","x":0.1775,"y":-0.020},{"g":4,"s":"S1","x":0.1774,"y":-0.15},
{"g":4,"s":"S2","x":0.1774,"y":0.15},{"g":4,"s":"S2","x":0.1774,"y":0.057},{"g":4,"s":"S2","x":0.1785,"y":0.045},{"g":4,"s":"S2","x":0.1795,"y":0.030},{"g":4,"s":"S2","x":0.1805,"y":0.015},{"g":4,"s":"S2","x":0.181,"y":0.0},{"g":4,"s":"S2","x":0.1813,"y":-0.015},{"g":4,"s":"S2","x":0.1818,"y":-0.030},{"g":4,"s":"S2","x":0.182,"y":-0.038},{"g":4,"s":"S2","x":0.1805,"y":-0.044},{"g":4,"s":"S2","x":0.1785,"y":-0.048},{"g":4,"s":"S2","x":0.1774,"y":-0.052},{"g":4,"s":"S2","x":0.1774,"y":-0.15},
{"g":4,"s":"S3","x":0.1774,"y":0.15},{"g":4,"s":"S3","x":0.1774,"y":0.052},{"g":4,"s":"S3","x":0.1782,"y":0.040},{"g":4,"s":"S3","x":0.1795,"y":0.025},{"g":4,"s":"S3","x":0.1805,"y":0.010},{"g":4,"s":"S3","x":0.1812,"y":-0.005},{"g":4,"s":"S3","x":0.1822,"y":-0.020},{"g":4,"s":"S3","x":0.1835,"y":-0.035},{"g":4,"s":"S3","x":0.1848,"y":-0.047},{"g":4,"s":"S3","x":0.1852,"y":-0.053},{"g":4,"s":"S3","x":0.1842,"y":-0.062},{"g":4,"s":"S3","x":0.1815,"y":-0.070},{"g":4,"s":"S3","x":0.1785,"y":-0.078},{"g":4,"s":"S3","x":0.1776,"y":-0.083},{"g":4,"s":"S3","x":0.1774,"y":-0.15}
],
"lab":[
{"p":"A","t":"x/c=1.025","x":0.481,"y":-0.1226},{"p":"A","t":"x/c=1.05","x":1.565,"y":-0.1226},{"p":"A","t":"x/c=1.10","x":2.587,"y":-0.1226},{"p":"A","t":"x/c=1.20","x":3.628,"y":-0.1226},
{"p":"B","t":"x/c=1.025","x":0.0236,"y":-0.112},{"p":"B","t":"x/c=1.05","x":0.0825,"y":-0.112},{"p":"B","t":"x/c=1.10","x":0.1448,"y":-0.111},{"p":"B","t":"x/c=1.20","x":0.2053,"y":-0.111},
{"p":"C","t":"x/c=1.025","x":0.559,"y":-0.1204},{"p":"C","t":"x/c=1.05","x":1.593,"y":-0.1204},{"p":"C","t":"x/c=1.10","x":2.606,"y":-0.1204},{"p":"C","t":"x/c=1.20","x":3.611,"y":-0.1204},
{"p":"D","t":"x/c=1.025","x":0.024,"y":-0.1125},{"p":"D","t":"x/c=1.05","x":0.082,"y":-0.1125},{"p":"D","t":"x/c=1.10","x":0.141,"y":-0.111},{"p":"D","t":"x/c=1.20","x":0.2004,"y":-0.111}
]
},
"columns":2,
"spacing":{"column":34,"row":26},
"resolve":{"scale":{"color":"independent","strokeDash":"independent"},"legend":{"color":"independent","strokeDash":"independent"}},
"concat":[
{"width":390,"height":229,
"title":{"text":"A","anchor":"start","frame":"bounds","font":"Liberation Sans","fontSize":19,"fontWeight":"bold","color":"#000","offset":0},
"resolve":{"axis":{"y":"independent"}},
"layer":[
{"data":{"name":"A"},"mark":{"type":"line"},
"encoding":{
"x":{"field":"x","type":"quantitative","scale":{"domain":[-0.08,4.48],"nice":false,"zero":false},"axis":{"title":"u/u₀","labels":false,"tickSize":-4,"values":[0,0.1667,0.3333,0.5,0.6667,0.8333,1,1.1667,1.3333,1.5,1.6667,1.8333,2,2.1667,2.3333,2.5,2.6667,2.8333,3,3.1667,3.3333,3.5,3.6667,3.8333,4,4.1667,4.3333],"titlePadding":17}},
"y":{"field":"y","type":"quantitative","scale":{"domain":[-0.15,0.15],"nice":false},"axis":{"title":"y/c","tickSize":-5,"labelPadding":5,"values":[-0.15,-0.1,-0.05,0,0.05,0.1,0.15],"labelExpr":"replace(format(datum.value, '.2f'), '\u2212', '-')","titlePadding":4}},
"color":{"field":"s","type":"nominal","scale":{"domain":["Baseline","S1","S2","S3"],"range":["#000000","#ff2d2d","#1c1cff","#139613"]},"legend":{"orient":"none","legendX":3,"legendY":0}},
"strokeDash":{"field":"s","type":"nominal","scale":{"domain":["Baseline","S1","S2","S3"],"range":[[1,0],[7,4],[3,2.5],[8,3,2,3]]},"legend":{"orient":"none","legendX":3,"legendY":0}},
"detail":{"field":"g"},
"order":{"field":"y","type":"quantitative"}}},
{"data":{"name":"lab"},"transform":[{"filter":"datum.p=='A'"}],"mark":{"type":"text","font":"Liberation Serif","fontWeight":"bold","fontSize":15,"align":"center","baseline":"middle","color":"#000"},
"encoding":{"x":{"field":"x","type":"quantitative"},"y":{"field":"y","type":"quantitative","axis":{"title":null,"labels":false,"domain":false,"tickSize":-3,"values":[-0.14,-0.13,-0.12,-0.11,-0.09,-0.08,-0.07,-0.06,-0.04,-0.03,-0.02,-0.01,0.01,0.02,0.03,0.04,0.06,0.07,0.08,0.09,0.11,0.12,0.13,0.14]}},"text":{"field":"t"}}}
]},
{"width":390,"height":229,
"title":{"text":"B","anchor":"start","frame":"bounds","font":"Liberation Sans","fontSize":19,"fontWeight":"bold","color":"#000","offset":0},
"resolve":{"axis":{"y":"independent"}},
"layer":[
{"data":{"name":"B"},"mark":{"type":"line"},
"encoding":{
"x":{"field":"x","type":"quantitative","scale":{"domain":[-0.0049,0.2232],"nice":false,"zero":false},"axis":{"title":"TKE/U₀²","labels":false,"tickSize":-4,"values":[0,0.01,0.02,0.03,0.04,0.05,0.06,0.07,0.08,0.09,0.1,0.11,0.12,0.13,0.14,0.15,0.16,0.17,0.18,0.19,0.2,0.21,0.22],"titlePadding":17}},
"y":{"field":"y","type":"quantitative","scale":{"domain":[-0.15,0.15],"nice":false},"axis":{"title":"y/c","tickSize":-5,"labelPadding":5,"values":[-0.15,-0.1,-0.05,0,0.05,0.1,0.15],"labelExpr":"replace(format(datum.value, '.2f'), '\u2212', '-')","titlePadding":4}},
"color":{"field":"s","type":"nominal","scale":{"domain":["Baseline","S1","S2","S3"],"range":["#000000","#ff2d2d","#1c1cff","#139613"]},"legend":{"orient":"none","legendX":18,"legendY":2}},
"strokeDash":{"field":"s","type":"nominal","scale":{"domain":["Baseline","S1","S2","S3"],"range":[[1,0],[7,4],[3,2.5],[8,3,2,3]]},"legend":{"orient":"none","legendX":18,"legendY":2}},
"detail":{"field":"g"},
"order":{"field":"y","type":"quantitative"}}},
{"data":{"name":"lab"},"transform":[{"filter":"datum.p=='B'"}],"mark":{"type":"text","font":"Liberation Serif","fontWeight":"bold","fontSize":15,"align":"center","baseline":"middle","color":"#000"},
"encoding":{"x":{"field":"x","type":"quantitative"},"y":{"field":"y","type":"quantitative","axis":{"title":null,"labels":false,"domain":false,"tickSize":-3,"values":[-0.14,-0.13,-0.12,-0.11,-0.09,-0.08,-0.07,-0.06,-0.04,-0.03,-0.02,-0.01,0.01,0.02,0.03,0.04,0.06,0.07,0.08,0.09,0.11,0.12,0.13,0.14]}},"text":{"field":"t"}}}
]},
{"width":390,"height":229,
"title":{"text":"C","anchor":"start","frame":"bounds","font":"Liberation Sans","fontSize":19,"fontWeight":"bold","color":"#000","offset":0},
"resolve":{"axis":{"y":"independent"}},
"layer":[
{"data":{"name":"C"},"mark":{"type":"line"},
"encoding":{
"x":{"field":"x","type":"quantitative","scale":{"domain":[-0.08,4.48],"nice":false,"zero":false},"axis":{"title":"u/u₀","labels":false,"tickSize":-4,"values":[0,0.1667,0.3333,0.5,0.6667,0.8333,1,1.1667,1.3333,1.5,1.6667,1.8333,2,2.1667,2.3333,2.5,2.6667,2.8333,3,3.1667,3.3333,3.5,3.6667,3.8333,4,4.1667,4.3333],"titlePadding":14}},
"y":{"field":"y","type":"quantitative","scale":{"domain":[-0.15,0.15],"nice":false},"axis":{"title":"y/c","tickSize":-5,"labelPadding":5,"values":[-0.15,-0.1,-0.05,0,0.05,0.1,0.15],"labelExpr":"replace(format(datum.value, '.2f'), '\u2212', '-')","titlePadding":4}},
"color":{"field":"s","type":"nominal","scale":{"domain":["Baseline","S1","S2","S3"],"range":["#000000","#ff2d2d","#1c1cff","#139613"]},"legend":{"orient":"none","legendX":3,"legendY":1}},
"strokeDash":{"field":"s","type":"nominal","scale":{"domain":["Baseline","S1","S2","S3"],"range":[[1,0],[7,4],[3,2.5],[8,3,2,3]]},"legend":{"orient":"none","legendX":3,"legendY":1}},
"detail":{"field":"g"},
"order":{"field":"y","type":"quantitative"}}},
{"data":{"name":"lab"},"transform":[{"filter":"datum.p=='C'"}],"mark":{"type":"text","font":"Liberation Serif","fontWeight":"bold","fontSize":15,"align":"center","baseline":"middle","color":"#000"},
"encoding":{"x":{"field":"x","type":"quantitative"},"y":{"field":"y","type":"quantitative","axis":{"title":null,"labels":false,"domain":false,"tickSize":-3,"values":[-0.14,-0.13,-0.12,-0.11,-0.09,-0.08,-0.07,-0.06,-0.04,-0.03,-0.02,-0.01,0.01,0.02,0.03,0.04,0.06,0.07,0.08,0.09,0.11,0.12,0.13,0.14]}},"text":{"field":"t"}}}
]},
{"width":390,"height":229,
"title":{"text":"D","anchor":"start","frame":"bounds","font":"Liberation Sans","fontSize":19,"fontWeight":"bold","color":"#000","offset":0},
"resolve":{"axis":{"y":"independent"}},
"layer":[
{"data":{"name":"D"},"mark":{"type":"line"},
"encoding":{
"x":{"field":"x","type":"quantitative","scale":{"domain":[-0.0064,0.2216],"nice":false,"zero":false},"axis":{"title":"TKE/U₀²","labels":false,"tickSize":-4,"values":[0,0.01,0.02,0.03,0.04,0.05,0.06,0.07,0.08,0.09,0.1,0.11,0.12,0.13,0.14,0.15,0.16,0.17,0.18,0.19,0.2,0.21,0.22],"titlePadding":14}},
"y":{"field":"y","type":"quantitative","scale":{"domain":[-0.15,0.15],"nice":false},"axis":{"title":"y/c","tickSize":-5,"labelPadding":5,"values":[-0.15,-0.1,-0.05,0,0.05,0.1,0.15],"labelExpr":"replace(format(datum.value, '.2f'), '\u2212', '-')","titlePadding":4}},
"color":{"field":"s","type":"nominal","scale":{"domain":["Baseline","S1","S2","S3"],"range":["#000000","#ff2d2d","#1c1cff","#139613"]},"legend":{"orient":"none","legendX":16,"legendY":2}},
"strokeDash":{"field":"s","type":"nominal","scale":{"domain":["Baseline","S1","S2","S3"],"range":[[1,0],[7,4],[3,2.5],[8,3,2,3]]},"legend":{"orient":"none","legendX":16,"legendY":2}},
"detail":{"field":"g"},
"order":{"field":"y","type":"quantitative"}}},
{"data":{"name":"lab"},"transform":[{"filter":"datum.p=='D'"}],"mark":{"type":"text","font":"Liberation Serif","fontWeight":"bold","fontSize":15,"align":"center","baseline":"middle","color":"#000"},
"encoding":{"x":{"field":"x","type":"quantitative"},"y":{"field":"y","type":"quantitative","axis":{"title":null,"labels":false,"domain":false,"tickSize":-3,"values":[-0.14,-0.13,-0.12,-0.11,-0.09,-0.08,-0.07,-0.06,-0.04,-0.03,-0.02,-0.01,0.01,0.02,0.03,0.04,0.06,0.07,0.08,0.09,0.11,0.12,0.13,0.14]}},"text":{"field":"t"}}}
]}
]
}
